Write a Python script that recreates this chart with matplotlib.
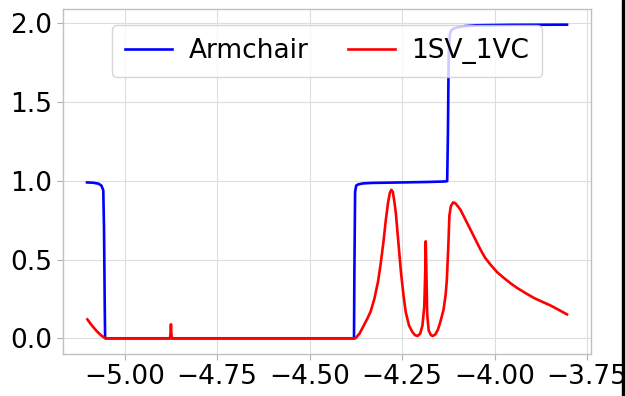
import matplotlib
matplotlib.use("Agg")
import matplotlib.pyplot as plt
from matplotlib.patches import Rectangle

# ---- data ----
x_armchair = [-5.102, -5.085, -5.071, -5.063, -5.058, -5.056, -5.054, -5.053,
              -4.380, -4.379, -4.377, -4.374, -4.368, -4.355, -4.330, -4.250,
              -4.180, -4.135, -4.128, -4.126, -4.124, -4.121, -4.117, -4.112,
              -4.100, -4.080, -4.050, -3.950, -3.804]
y_armchair = [0.990, 0.988, 0.982, 0.970, 0.940, 0.700, 0.200, 0.000,
              0.000, 0.400, 0.930, 0.970, 0.978, 0.984, 0.987, 0.990,
              0.993, 0.996, 0.998, 1.300, 1.800, 1.930, 1.955, 1.966,
              1.975, 1.983, 1.988, 1.991, 1.992]

x_1sv1vc = [-5.101, -5.090, -5.076, -5.062, -5.052, -4.879, -4.877, -4.8755,
            -4.875, -4.8745, -4.873, -4.871,
            -4.376, -4.365, -4.355, -4.345, -4.335, -4.325, -4.315, -4.308,
            -4.300, -4.294, -4.288, -4.283, -4.279, -4.275, -4.271, -4.267,
            -4.260, -4.253, -4.246, -4.240, -4.231, -4.222, -4.215, -4.208,
            -4.201, -4.195, -4.190, -4.187, -4.186, -4.1845, -4.182, -4.178,
            -4.172, -4.167, -4.160, -4.153, -4.147, -4.138, -4.132, -4.129,
            -4.125, -4.122, -4.118, -4.112, -4.106, -4.099, -4.092, -4.080,
            -4.065, -4.050, -4.038, -4.025, -4.011, -3.993, -3.975, -3.957,
            -3.939, -3.916, -3.894, -3.871, -3.849, -3.826, -3.804]
y_1sv1vc = [0.120, 0.085, 0.046, 0.015, 0.000, 0.000, 0.010, 0.050,
            0.089, 0.050, 0.010, 0.000,
            0.000, 0.030, 0.075, 0.120, 0.170, 0.250, 0.360, 0.470,
            0.620, 0.750, 0.860, 0.925, 0.943, 0.930, 0.870, 0.800,
            0.610, 0.420, 0.270, 0.165, 0.080, 0.040, 0.020, 0.015,
            0.030, 0.080, 0.200, 0.450, 0.616, 0.450, 0.150, 0.050,
            0.020, 0.015, 0.025, 0.055, 0.100, 0.180, 0.280, 0.370,
            0.580, 0.780, 0.840, 0.863, 0.858, 0.838, 0.816, 0.760,
            0.690, 0.620, 0.563, 0.510, 0.468, 0.420, 0.384, 0.350,
            0.320, 0.287, 0.257, 0.232, 0.209, 0.180, 0.152]

labels = ["Armchair", "1SV_1VC"]
x_ticks = [-5.00, -4.75, -4.50, -4.25, -4.00, -3.75]
y_ticks = [0.0, 0.5, 1.0, 1.5, 2.0]

fig = plt.figure(figsize=(6.25, 3.96), dpi=100)
ax = fig.add_axes([0.1008, 0.1061, 0.8448, 0.8712])

ax.plot(x_armchair, y_armchair, color="blue", lw=1.9, label=labels[0])
ax.plot(x_1sv1vc, y_1sv1vc, color="red", lw=1.9, label=labels[1])

ax.set_xticks(x_ticks)
ax.set_yticks(y_ticks)
ax.set_xticklabels([f"{v:.2f}".replace("-", "\u2212") for v in x_ticks])
ax.set_yticklabels([f"{v:.1f}" for v in y_ticks])
ax.tick_params(labelsize=19, color="#b0b0b0", length=4)
ax.grid(True, color="#dddddd", lw=0.8)
for s in ax.spines.values():
    s.set_color("#c0c0c0")
    s.set_linewidth(1.0)

ax.legend(loc="upper center", ncol=2, fontsize=19, framealpha=0.8,
          handlelength=1.8, handletextpad=0.6, columnspacing=1.5,
          borderpad=0.5, borderaxespad=0.6)

fig.patches.append(Rectangle((0.9947, 0), 0.0053, 1, transform=fig.transFigure,
                             color="black", zorder=10))

fig.savefig("out.png", dpi=100)
